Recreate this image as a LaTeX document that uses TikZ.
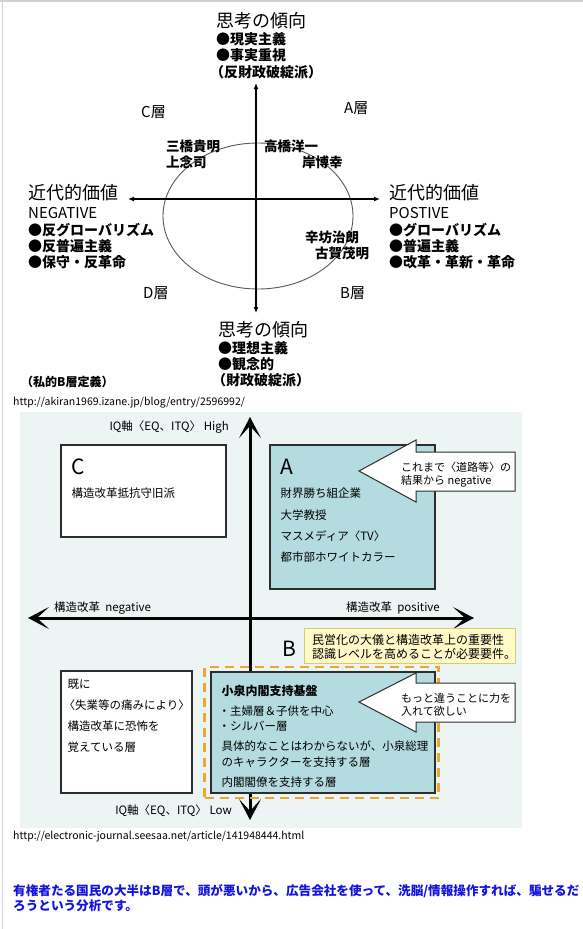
\documentclass[tikz,border=0pt]{standalone}
\usepackage{fontspec}
\setmainfont{Noto Sans CJK JP}
\usepackage{xcolor}
\usetikzlibrary{arrows.meta, positioning, calc}
\definecolor{panelbg}{RGB}{236,244,244}
\definecolor{tealfill}{RGB}{180,220,224}
\definecolor{noteyellow}{RGB}{255,250,200}
\definecolor{noteedge}{RGB}{215,205,110}
\definecolor{dashorange}{RGB}{240,165,45}
\definecolor{boxedge}{RGB}{45,45,45}
\definecolor{textblue}{RGB}{20,20,225}
\newcommand{\fsz}[1]{\fontsize{#1}{#1}\selectfont}
\tikzstyle{thinaxis} = [line width=1.4pt, {Latex[length=6pt,width=5pt]}-{Latex[length=6pt,width=5pt]}]
\tikzstyle{thickaxis} = [line width=3pt, {Stealth[length=21pt,width=22pt,inset=12pt]}-{Stealth[length=21pt,width=22pt,inset=12pt]}]
\tikzstyle{callout} = [fill=white, draw=boxedge, line width=1pt, line join=miter]

\begin{document}
\begin{tikzpicture}[x=1pt, y=-1pt,
    txt/.style={inner sep=0pt, anchor=west, font=\fsz{13}},
    head/.style={txt, font=\fsz{18}},
    bul/.style={txt, font=\bfseries\fsz{14}},
    who/.style={txt, font=\bfseries\fsz{13.5}},
    tag/.style={txt, font=\fsz{15}},
    url/.style={txt, font=\fsz{10.5}},
    low/.style={txt, font=\fsz{11.5}},
    big/.style={txt, font=\fsz{21}},
    layer/.style={draw=boxedge, line width=1.2pt, inner sep=0pt},
  ]
    \useasboundingbox (0,0) rectangle (583,929);
    \fill[white] (0,0) rectangle (583,929);
    \draw[gray!35, line width=1.5pt] (0,0.75) -- (583,0.75);
    \draw[gray!35, line width=1.5pt] (2.5,0) -- (2.5,929);

    % upper chart: axes and circle
    \coordinate (vTop) at (256,83);
    \coordinate (vBot) at (256,313);
    \coordinate (hLeft) at (128,199);
    \coordinate (hRight) at (380,199);
    \draw[gray!70!black, line width=0.9pt] (258,216) ellipse [x radius=95, y radius=73];
    \draw[thinaxis] (vBot) -- (vTop);
    \draw[thinaxis] (hLeft) -- (hRight);

    % upper chart: top and bottom labels
    \node[head] (thinkTop) at (216,21) {思考の傾向};
    \node[bul] (realism) at (216,39) {●現実主義};
    \node[bul] (facts) at (216,55) {●事実重視};
    \node[bul] (antiDeficit) at (210,72) {（反財政破綻派）};
    \node[head] (thinkBot) at (218,330) {思考の傾向};
    \node[bul] (idealism) at (218,348) {●理想主義};
    \node[bul] (notional) at (218,364) {●観念的};
    \node[bul] (deficit) at (212,380) {（財政破綻派）};

    % upper chart: left and right labels
    \node[head] (modernL) at (28,193) {近代的価値};
    \node[tag] (negTag) at (28,213) {NEGATIVE};
    \node[bul] (antiGlobal) at (28,230) {●反グローバリズム};
    \node[bul] (antiUniv) at (28,246) {●反普遍主義};
    \node[bul] (conserv) at (28,262) {●保守・反革命};
    \node[head] (modernR) at (389,193) {近代的価値};
    \node[tag] (posTag) at (389,213) {POSTIVE};
    \node[bul] (global) at (389,230) {●グローバリズム};
    \node[bul] (univ) at (389,246) {●普遍主義};
    \node[bul] (reform) at (389,262) {●改革・革新・革命};

    % upper chart: layers and names
    \node[tag] (tagC) at (141,112) {C層};
    \node[tag] (tagA) at (344,108) {A層};
    \node[tag] (tagD) at (143,293) {D層};
    \node[tag] (tagB) at (340,293) {B層};
    \node[who] (mitsuhashi) at (166,146) {三橋貴明};
    \node[who] (jonen) at (166,162) {上念司};
    \node[who] (takahashi) at (264,146) {高橋洋一};
    \node[who] (kishi) at (302,162) {岸博幸};
    \node[who] (shinbo) at (305,237) {辛坊治朗};
    \node[who] (koga) at (315,253) {古賀茂明};

    \node[txt, font=\bfseries\fsz{12}] (ownDef) at (21,382) {（私的B層定義）};
    \node[url] (url1) at (13,403) {http://akiran1969.izane.jp/blog/entry/2596992/};

    % lower chart
    \node[fill=panelbg, inner sep=0pt, minimum width=502pt, minimum height=416pt] (panel) at (271,620) {};
    \coordinate (iqHigh) at (250,417);
    \coordinate (iqLow) at (250,820);
    \coordinate (refNeg) at (28,618);
    \coordinate (refPos) at (474,618);
    \draw[thickaxis] (iqLow) -- (iqHigh);
    \draw[thickaxis] (refNeg) -- (refPos);
    \node[low, anchor=east] (highLbl) at (229,427) {IQ軸〈EQ、ITQ〉 High};
    \node[low, anchor=east] (lowLbl) at (232,811) {IQ軸〈EQ、ITQ〉 Low};
    \node[low] (negLbl) at (54,608) {構造改革\ \ negative};
    \node[low] (posLbl) at (346,608) {構造改革\ \ positive};

    % box C
    \node[layer, fill=white, minimum width=165pt, minimum height=92pt] (boxC) at (143.5,491) {};
    \node[big] (letterC) at ($(boxC.north west)+(11,22)$) {C};
    \node[low] (resist) at ($(boxC.north west)+(11,49)$) {構造改革抵抗守旧派};

    % box A
    \node[layer, fill=tealfill, minimum width=165pt, minimum height=144pt] (boxA) at (352.5,517) {};
    \node[big] (letterA) at ($(boxA.north west)+(11,22)$) {A};
    \node[low] (firms) at ($(boxA.north west)+(11,49)$) {財界勝ち組企業};
    \node[low] (profs) at ($(boxA.north west)+(11,71)$) {大学教授};
    \node[low] (media) at ($(boxA.north west)+(11,92)$) {マスメディア〈TV〉};
    \node[low] (collar) at ($(boxA.north west)+(11,113)$) {都市部ホワイトカラー};
    \draw[callout] (359,471) -- (416,440) -- (416,452) -- (515,452) -- (515,491) -- (416,491) -- (416,502) -- cycle;
    \node[low, font=\fsz{11}] (calloutA1) at (401,467) {これまで〈道路等〉の};
    \node[low, font=\fsz{11}] (calloutA2) at (401,481) {結果から negative};

    % note and B
    \node[fill=noteyellow, draw=noteedge, line width=1pt, minimum width=211pt, minimum height=35pt, inner sep=0pt] (note) at (409.5,645.5) {};
    \node[low, font=\fsz{12}] (note1) at (312,640) {民営化の大儀と構造改革上の重要性};
    \node[low, font=\fsz{12}] (note2) at (312,654) {認識レベルを高めることが必要要件。};
    \node[big] (letterB) at (282,649) {B};

    % box B
    \node[draw=dashorange, line width=2.6pt, dash pattern=on 9pt off 6pt, minimum width=234pt, minimum height=131pt, inner sep=0pt] (dashB) at (321.75,732.5) {};
    \node[layer, fill=tealfill, minimum width=224pt, minimum height=121pt] (boxB) at (323,732.5) {};
    \node[low, font=\bfseries\fsz{12}] (koizumi) at ($(boxB.north west)+(11,19)$) {小泉内閣支持基盤};
    \node[low] (housewives) at ($(boxB.north west)+(8,40)$) {・主婦層＆子供を中心};
    \node[low] (silver) at ($(boxB.north west)+(8,55)$) {・シルバー層};
    \node[low] (vague1) at ($(boxB.north west)+(11,75)$) {具体的なことはわからないが、小泉総理};
    \node[low] (vague2) at ($(boxB.north west)+(11,91)$) {のキャラクターを支持する層};
    \node[low] (cabinet) at ($(boxB.north west)+(11,111)$) {内閣閣僚を支持する層};
    \draw[callout] (359,702) -- (416,673) -- (416,683) -- (515,683) -- (515,722) -- (416,722) -- (416,732) -- cycle;
    \node[low, font=\fsz{11}] (calloutB1) at (401,698) {もっと違うことに力を};
    \node[low, font=\fsz{11}] (calloutB2) at (401,711) {入れて欲しい};

    % box D
    \node[layer, fill=white, minimum width=131pt, minimum height=122pt] (boxD) at (126.5,732) {};
    \node[low] (already) at ($(boxD.north west)+(7,14)$) {既に};
    \node[low] (pain) at ($(boxD.north west)+(3,35)$) {〈失業等の痛みにより〉};
    \node[low] (fear) at ($(boxD.north west)+(7,56)$) {構造改革に恐怖を};
    \node[low] (feel) at ($(boxD.north west)+(7,77)$) {覚えている層};

    \node[url] (url2) at (13,837) {http://electronic-journal.seesaa.net/article/141948444.html};
    \node[txt, font=\bfseries\fsz{12.6}, text=textblue] (summary1) at (13,891) {有権者たる国民の大半はB層で、頭が悪いから、広告会社を使って、洗脳/情報操作すれば、騙せるだ};
    \node[txt, font=\bfseries\fsz{12.6}, text=textblue] (summary2) at (13,906) {ろうという分析です。};
\end{tikzpicture}
\end{document}
